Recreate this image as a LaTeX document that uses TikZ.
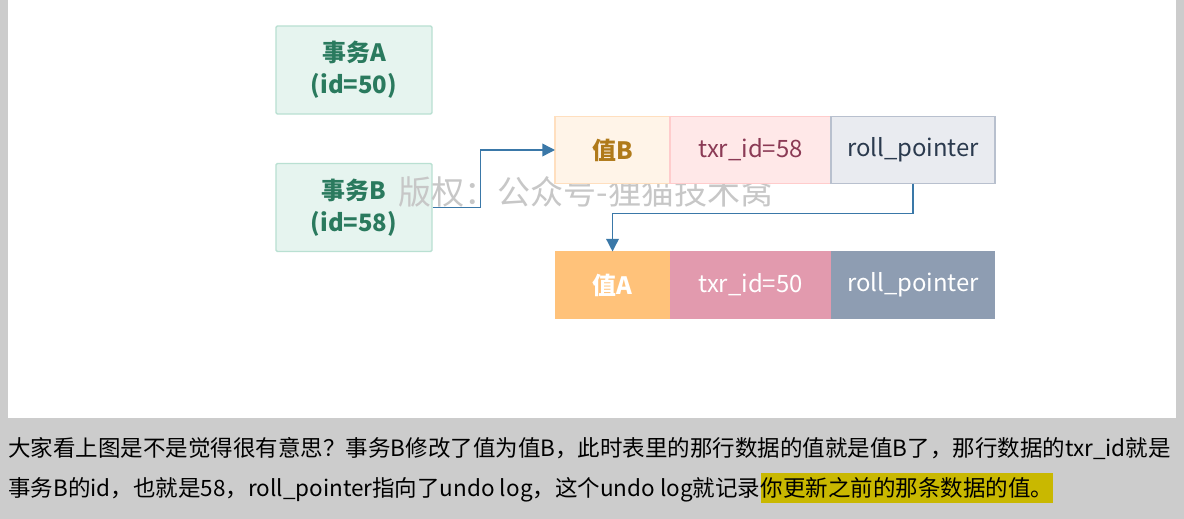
\documentclass[tikz,border=0pt]{standalone}
\usepackage{fontspec}
\setmainfont{Noto Sans CJK SC}
\usetikzlibrary{positioning, arrows.meta}

\definecolor{pageGrey}{HTML}{CCCCCC}
\definecolor{txFill}{HTML}{E6F4EF}
\definecolor{txLine}{HTML}{B9E0D2}
\definecolor{txText}{HTML}{2A7A5E}
\definecolor{arrowBlue}{HTML}{3A78A8}
\definecolor{hlYellow}{HTML}{C9B800}

\tikzset{
  txbox/.style={draw=txLine, fill=txFill, line width=1pt, rounded corners=1pt,
    minimum width=3.9cm, minimum height=2.2cm, align=center, text=txText,
    font=\fontsize{17}{23}\selectfont\bfseries},
  cell/.style={line width=1pt, minimum height=1.675cm, outer sep=0pt,
    font=\fontsize{17}{20}\selectfont},
  conn/.style={draw=arrowBlue, line width=1pt, -{Triangle[length=9pt,width=9pt]}},
  para/.style={inner sep=0pt, font=\fontsize{16}{19}\selectfont}
}

\begin{document}
\begin{tikzpicture}[x=0.025cm, y=-0.025cm]
      % page and panel
      \fill[pageGrey] (0,0) rectangle (1184,519);
      \fill[white] (8,0) rectangle (1176,418);
      \useasboundingbox (0,0) rectangle (1184,519);

      % transactions
      \node[txbox] (ta) at (354,70) {事务A\\(id=50)};
      \node[txbox] (tb) at (354,207.5) {事务B\\(id=58)};

      % watermark
      \node[text=black!22, font=\fontsize{23.5}{26}\selectfont] (wm) at (586,192) {版权：公众号-狸猫技术窝};

      % current row
      \node[cell, draw=orange!25, fill=orange!9, text={rgb,255:red,176;green,122;blue,26},
        minimum width=2.875cm, anchor=west, font=\fontsize{17}{20}\selectfont\bfseries] (vb) at (555,150) {值B};
      \node[cell, draw=red!20, fill=red!9, text={rgb,255:red,139;green,58;blue,85},
        minimum width=4.025cm, right=0pt of vb] (xb) {txr\_id=58};
      \node[cell, draw={rgb,255:red,184;green,192;blue,206}, fill={rgb,255:red,233;green,235;blue,240},
        text={rgb,255:red,43;green,58;blue,78}, minimum width=4.1cm, right=0pt of xb] (rb) {roll\_pointer};

      % undo log row
      \node[cell, fill={rgb,255:red,255;green,194;blue,122}, text=white,
        minimum width=2.875cm, anchor=west, font=\fontsize{17}{20}\selectfont\bfseries] (va) at (555,285) {值A};
      \node[cell, fill={rgb,255:red,226;green,154;blue,174}, text=white,
        minimum width=4.025cm, right=0pt of va] (xa) {txr\_id=50};
      \node[cell, fill={rgb,255:red,142;green,157;blue,178}, text=white,
        minimum width=4.1cm, right=0pt of xa] (ra) {roll\_pointer};

      % pointers
      \draw[conn] (tb.east) -- ++(48,0) |- (vb.west);
      \draw[conn] (rb.south) -- ++(0,30) -| (va.north);

      % caption text
      \node[para, anchor=west] (l1) at (8,449) {大家看上图是不是觉得很有意思？事务B修改了值为值B，此时表里的那行数据的值就是值B了，那行数据的txr\_id就是};
      \node[para, anchor=west] (l2) at (8,490) {事务B的id，也就是58，roll\_pointer指向了undo log，这个undo log就记录};
      \node[para, anchor=base west, fill=hlYellow, inner ysep=3pt] (l2h) at (l2.base east) {你更新之前的那条数据的值。};
\end{tikzpicture}
\end{document}
